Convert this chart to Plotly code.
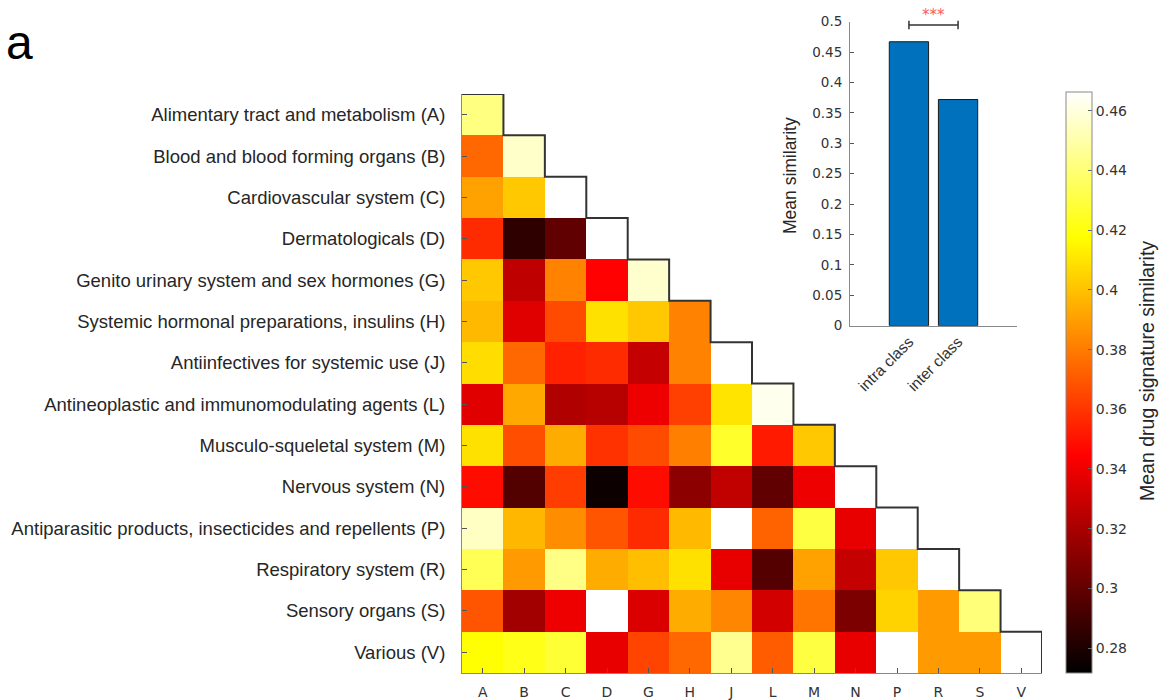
import plotly.graph_objects as go

# ATC drug classes (rows, top to bottom) and their one-letter codes (columns)
codes = ["A", "B", "C", "D", "G", "H", "J", "L", "M", "N", "P", "R", "S", "V"]
class_names = [
    "Alimentary tract and metabolism (A)",
    "Blood and blood forming organs (B)",
    "Cardiovascular system (C)",
    "Dermatologicals (D)",
    "Genito urinary system and sex hormones (G)",
    "Systemic hormonal preparations, insulins (H)",
    "Antiinfectives for systemic use (J)",
    "Antineoplastic and immunomodulating agents (L)",
    "Musculo-squeletal system (M)",
    "Nervous system (N)",
    "Antiparasitic products, insecticides and repellents (P)",
    "Respiratory system (R)",
    "Sensory organs (S)",
    "Various (V)",
]

# Lower triangle of the mean drug signature similarity matrix
row_A = [0.442]
row_B = [0.374, 0.456]
row_C = [0.391, 0.402, 0.467]
row_D = [0.357, 0.285, 0.299, 0.467]
row_G = [0.402, 0.326, 0.382, 0.345, 0.457]
row_H = [0.398, 0.336, 0.366, 0.409, 0.402, 0.382]
row_J = [0.408, 0.374, 0.354, 0.357, 0.328, 0.382, 0.467]
row_L = [0.336, 0.393, 0.322, 0.324, 0.340, 0.363, 0.410, 0.463]
row_M = [0.409, 0.367, 0.394, 0.359, 0.366, 0.381, 0.426, 0.352, 0.402]
row_N = [0.348, 0.295, 0.362, 0.275, 0.348, 0.312, 0.327, 0.299, 0.340, 0.467]
row_P = [0.455, 0.397, 0.385, 0.369, 0.357, 0.398, 0.467, 0.373, 0.430, 0.338, 0.467]
row_R = [0.434, 0.389, 0.443, 0.394, 0.399, 0.409, 0.338, 0.296, 0.391, 0.328, 0.402, 0.467]
row_S = [0.369, 0.318, 0.340, 0.467, 0.334, 0.394, 0.383, 0.332, 0.378, 0.307, 0.405, 0.389, 0.441]
row_V = [0.418, 0.422, 0.428, 0.338, 0.364, 0.374, 0.445, 0.371, 0.430, 0.338, 0.467, 0.389, 0.389, 0.467]

matrix_rows = [row_A, row_B, row_C, row_D, row_G, row_H, row_J,
               row_L, row_M, row_N, row_P, row_R, row_S, row_V]

# Colour limits and colourbar ticks
c_min, c_max = 0.2716, 0.4663
cbar_ticks = [0.28, 0.30, 0.32, 0.34, 0.36, 0.38, 0.40, 0.42, 0.44, 0.46]
cbar_labels = ["0.28", "0.3", "0.32", "0.34", "0.36", "0.38", "0.4", "0.42", "0.44", "0.46"]
cbar_title = "Mean drug signature similarity"

# Inset: intra- vs inter-class mean similarity
bar_labels = ["intra class", "inter class"]
bar_values = [0.467, 0.372]
bar_ticks = [0, 0.05, 0.1, 0.15, 0.2, 0.25, 0.3, 0.35, 0.4, 0.45, 0.5]
bar_tick_labels = ["0", "0.05", "0.1", "0.15", "0.2", "0.25", "0.3", "0.35", "0.4", "0.45", "0.5"]
significance = "***"

n = len(codes)
z = [r + [None] * (n - len(r)) for r in matrix_rows]

# MATLAB-style "hot" colormap
hot = [[0.0, "rgb(0,0,0)"], [0.375, "rgb(255,0,0)"],
       [0.75, "rgb(255,255,0)"], [1.0, "rgb(255,255,255)"]]

W, H = 1159, 700
TXT = "#262626"
AX = "#8a8a8a"

fig = go.Figure()

fig.add_trace(go.Heatmap(
    z=z, x=list(range(n)), y=list(range(n)),
    colorscale=hot, zmin=c_min, zmax=c_max,
    hoverongaps=False,
    colorbar=dict(
        x=1066 / W, xanchor="left", xref="paper",
        y=1 - 382.6 / H, yanchor="middle", len=581 / H, lenmode="fraction",
        thickness=26, thicknessmode="pixels", ypad=0, xpad=0,
        outlinewidth=1, outlinecolor=AX,
        tickvals=cbar_ticks, ticktext=cbar_labels,
        ticks="inside", ticklen=4, tickcolor="#666",
        tickfont=dict(family="DejaVu Sans", size=14, color="#333"),
    ),
))

# Staircase outline along the diagonal of the lower triangle
sx, sy = [], []
for i in range(n):
    sx += [i - 0.5, i + 0.5]
    sy += [i - 0.5, i - 0.5]
sx.append(n - 0.5)
sy.append(n - 0.5)
fig.add_trace(go.Scatter(x=sx, y=sy, mode="lines",
                         line=dict(color="#333333", width=2),
                         hoverinfo="skip", showlegend=False))

# Inset bar chart
fig.add_trace(go.Bar(x=[1, 2], y=bar_values, width=0.8,
                     marker=dict(color="#0072BD", line=dict(color="#1a1a1a", width=1)),
                     xaxis="x2", yaxis="y2", showlegend=False))

inset_y0, inset_y1 = 1 - 325.7 / H, 1 - 21.7 / H
inset_range = [0, 0.5]


def inset_to_paper(v):
    return inset_y0 + (v - inset_range[0]) / (inset_range[1] - inset_range[0]) * (inset_y1 - inset_y0)


br_y, br_cap = 0.4946, 0.007
shapes = [
    dict(type="line", xref="x2", yref="paper", x0=1, x1=2,
         y0=inset_to_paper(br_y), y1=inset_to_paper(br_y), line=dict(color="#333", width=1.5)),
    dict(type="line", xref="x2", yref="paper", x0=1, x1=1,
         y0=inset_to_paper(br_y - br_cap), y1=inset_to_paper(br_y + br_cap), line=dict(color="#333", width=1.5)),
    dict(type="line", xref="x2", yref="paper", x0=2, x1=2,
         y0=inset_to_paper(br_y - br_cap), y1=inset_to_paper(br_y + br_cap), line=dict(color="#333", width=1.5)),
]

annotations = [
    dict(text=significance, xref="x2", yref="paper", x=1.5, y=inset_to_paper(0.5105),
         showarrow=False, font=dict(family="DejaVu Sans", size=15, color="#ff5a5a"),
         xanchor="center", yanchor="middle"),
    dict(text="a", xref="paper", yref="paper", x=4 / W, y=1 - 42 / H,
         showarrow=False, font=dict(family="Liberation Sans", size=48, color="black"),
         xanchor="left", yanchor="middle"),
    dict(text=cbar_title, xref="paper", yref="paper", x=1147 / W, y=1 - 371 / H,
         textangle=-90, showarrow=False,
         font=dict(family="Liberation Sans", size=19.5, color=TXT),
         xanchor="center", yanchor="middle"),
    dict(text="Mean similarity", xref="paper", yref="paper", x=790 / W, y=1 - 176 / H,
         textangle=-90, showarrow=False,
         font=dict(family="Liberation Sans", size=17.5, color=TXT),
         xanchor="center", yanchor="middle"),
]

fig.update_layout(
    width=W, height=H,
    margin=dict(l=0, r=0, t=0, b=0, autoexpand=False),
    paper_bgcolor="white", plot_bgcolor="white",
    showlegend=False,
    shapes=shapes, annotations=annotations,
    xaxis=dict(domain=[462 / W, 1042 / W], range=[-0.5, n - 0.5], anchor="y",
               tickvals=list(range(n)), ticktext=codes, automargin=False,
               ticks="inside", ticklen=5, tickcolor="#555",
               showline=True, linecolor=AX, linewidth=1, mirror=False,
               showgrid=False, zeroline=False, ticklabelstandoff=6,
               tickfont=dict(family="DejaVu Sans", size=14, color="#333")),
    yaxis=dict(domain=[1 - 673 / H, 1 - 94 / H], range=[n - 0.5, -0.5], anchor="x",
               tickvals=list(range(n)), ticktext=class_names, automargin=False,
               ticks="inside", ticklen=5, tickcolor="#555",
               showline=True, linecolor=AX, linewidth=1, mirror=False,
               showgrid=False, zeroline=False, ticklabelstandoff=12,
               tickfont=dict(family="Liberation Sans", size=18.5, color=TXT)),
    xaxis2=dict(domain=[850 / W, 1017 / W], range=[-0.2, 3.2], anchor="y2",
                tickvals=[1, 2], ticktext=bar_labels, tickangle=-45, ticks="",
                showline=True, linecolor=AX, linewidth=1, automargin=False,
                showgrid=False, zeroline=False,
                tickfont=dict(family="Liberation Sans", size=15.5, color="#333")),
    yaxis2=dict(domain=[inset_y0, inset_y1], range=inset_range, anchor="x2",
                tickvals=bar_ticks, ticktext=bar_tick_labels, automargin=False,
                ticks="inside", ticklen=4, tickcolor="#555",
                showline=True, linecolor=AX, linewidth=1,
                showgrid=False, zeroline=False, ticklabelstandoff=4,
                tickfont=dict(family="DejaVu Sans", size=13.5, color="#333")),
)

fig.write_html("out.html")
